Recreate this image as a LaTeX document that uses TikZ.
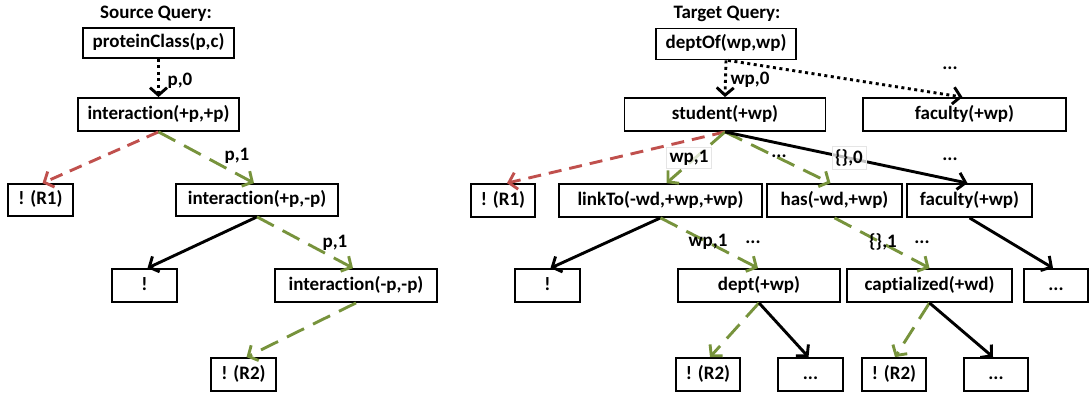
\documentclass[tikz,border=0pt]{standalone}
\usepackage{fontspec}
\setmainfont{Carlito}[Ligatures=NoCommon]
\usetikzlibrary{arrows.meta}
\definecolor{ored}{RGB}{192,80,77}
\definecolor{ogreen}{RGB}{119,147,60}
\newcommand\lbfont{\fontsize{19pt}{22pt}\selectfont\bfseries}
\tikzset{
  qbox/.style={draw, line width=1.8pt, minimum height=32pt, inner sep=0pt,
    text height=13pt, text depth=4pt, font=\lbfont},
  arr/.style={line width=2.9pt, -{Straight Barb[length=7.5pt,width=17pt]}},
  blackarr/.style={arr, draw=black},
  greenarr/.style={arr, draw=ogreen, dash pattern=on 19pt off 10pt},
  redarr/.style={arr, draw=ored, dash pattern=on 13pt off 8pt},
  dotarr/.style={arr, draw=black, dash pattern=on 3pt off 3.5pt},
  lbl/.style={font=\lbfont, inner sep=1pt},
  lblbox/.style={font=\lbfont, inner sep=3pt, fill=white, fill opacity=0.75,
    text opacity=1, draw=black!10, line width=0.6pt},
  ttl/.style={font=\lbfont}
}
\begin{document}
\begin{tikzpicture}[x=1pt,y=-1pt]
\useasboundingbox (0,0) rectangle (1090,396);
% ---------- Source query ----------
\node[ttl] (st) at (156,14) {Source Query:};
\node[qbox, minimum width=151pt, minimum height=30pt] (pc) at (158.5,43) {proteinClass(p,c)};
\node[qbox, minimum width=161pt, minimum height=33pt] (i1) at (158.5,114.5) {interaction(+p,+p)};
\node[qbox, minimum width=65pt] (r1L) at (40.5,200) {! (R1)};
\node[qbox, minimum width=162pt] (i2) at (257,200) {interaction(+p,-p)};
\node[qbox, minimum width=65pt, minimum height=33pt] (bL) at (144.5,285.5) {!};
\node[qbox, minimum width=162pt, minimum height=33pt] (i3) at (356,285.5) {interaction(-p,-p)};
\node[qbox, minimum width=65pt, minimum height=33pt] (r2L) at (243.5,374.5) {! (R2)};

\draw[dotarr] (pc.south) -- (i1.north);
\draw[redarr] (i1.south) -- ([xshift=2pt]r1L.north);
\draw[greenarr] (i1.south) -- ([xshift=-3pt]i2.north);
\draw[blackarr] (i2.south) -- ([xshift=3pt]bL.north);
\draw[greenarr] (i2.south) -- ([xshift=-3pt]i3.north);
\draw[greenarr] (i3.south) -- ([xshift=3pt]r2L.north);

\node[lbl] (l1) at (180,81) {p,0};
\node[lbl] (l2) at (237,156) {p,1};
\node[lbl] (l3) at (335,243) {p,1};

% ---------- Target query ----------
\node[ttl] (tt) at (727,14) {Target Query:};
\node[qbox, minimum width=140pt, minimum height=31pt] (dof) at (726,44) {deptOf(wp,wp)};
\node[qbox, minimum width=201pt, minimum height=33pt] (stu) at (725,114.5) {student(+wp)};
\node[qbox, minimum width=203pt, minimum height=33pt] (facT) at (964.5,114.5) {faculty(+wp)};
\node[qbox, minimum width=64pt, minimum height=33pt] (r1R) at (503,200.5) {! (R1)};
\node[qbox, minimum width=203pt, minimum height=33pt] (lnk) at (660.5,200.5) {linkTo(-wd,+wp,+wp)};
\node[qbox, minimum width=135pt, minimum height=33pt] (has) at (834.5,200.5) {has(-wd,+wp)};
\node[qbox, minimum width=125pt, minimum height=33pt] (fac2) at (969.5,200.5) {faculty(+wp)};
\node[qbox, minimum width=65pt, minimum height=33pt] (bR) at (547.5,285.5) {!};
\node[qbox, minimum width=162pt, minimum height=33pt] (dept) at (759,285.5) {dept(+wp)};
\node[qbox, minimum width=165pt, minimum height=33pt] (cap) at (929.5,285.5) {captialized(+wd)};
\node[qbox, minimum width=64pt, minimum height=33pt] (d3) at (1056,285.5) {...};
\node[qbox, minimum width=64pt, minimum height=33pt] (r2a) at (708,374.5) {! (R2)};
\node[qbox, minimum width=65pt, minimum height=33pt] (d4a) at (810.5,374.5) {...};
\node[qbox, minimum width=64pt, minimum height=33pt] (r2b) at (894,374.5) {! (R2)};
\node[qbox, minimum width=64pt, minimum height=33pt] (d4b) at (996,374.5) {...};

\draw[dotarr] (dof.south) -- (stu.north);
\draw[dotarr] ([xshift=2pt]dof.south) -- ([xshift=-2pt]facT.north);
\draw[redarr] (stu.south) -- ([xshift=4pt]r1R.north);
\draw[greenarr] (stu.south) -- ([xshift=6pt]lnk.north);
\draw[greenarr] (stu.south) -- ([xshift=-4pt]has.north);
\draw[blackarr] (stu.south) -- ([xshift=-2pt]fac2.north);
\draw[blackarr] (lnk.south) -- ([xshift=3pt]bR.north);
\draw[greenarr] (lnk.south) -- ([xshift=-1pt]dept.north);
\draw[greenarr] (has.south) -- (cap.north);
\draw[blackarr] (fac2.south) -- ([xshift=-3pt]d3.north);
\draw[greenarr] (dept.south) -- ([xshift=2pt]r2a.north);
\draw[blackarr] (dept.south) -- ([xshift=-2pt]d4a.north);
\draw[greenarr] (cap.south) -- ([xshift=1pt]r2b.north);
\draw[blackarr] (cap.south) -- ([xshift=-3pt]d4b.north);

\node[lbl] (m1) at (750,80) {wp,0};
\node[lbl] (m2) at (950,68) {...};
\node[lblbox] (m3) at (689,158) {wp,1};
\node[lbl] (m4) at (779,156) {...};
\node[lblbox] (m5) at (849,158) {\{\},0};
\node[lbl] (m6) at (950,159) {...};
\node[lbl] (m7) at (708,242) {wp,1};
\node[lbl] (m8) at (753,242) {...};
\node[lbl] (m9) at (883,242) {\{\},1};
\node[lbl] (m10) at (922,242) {...};
\end{tikzpicture}
\end{document}
